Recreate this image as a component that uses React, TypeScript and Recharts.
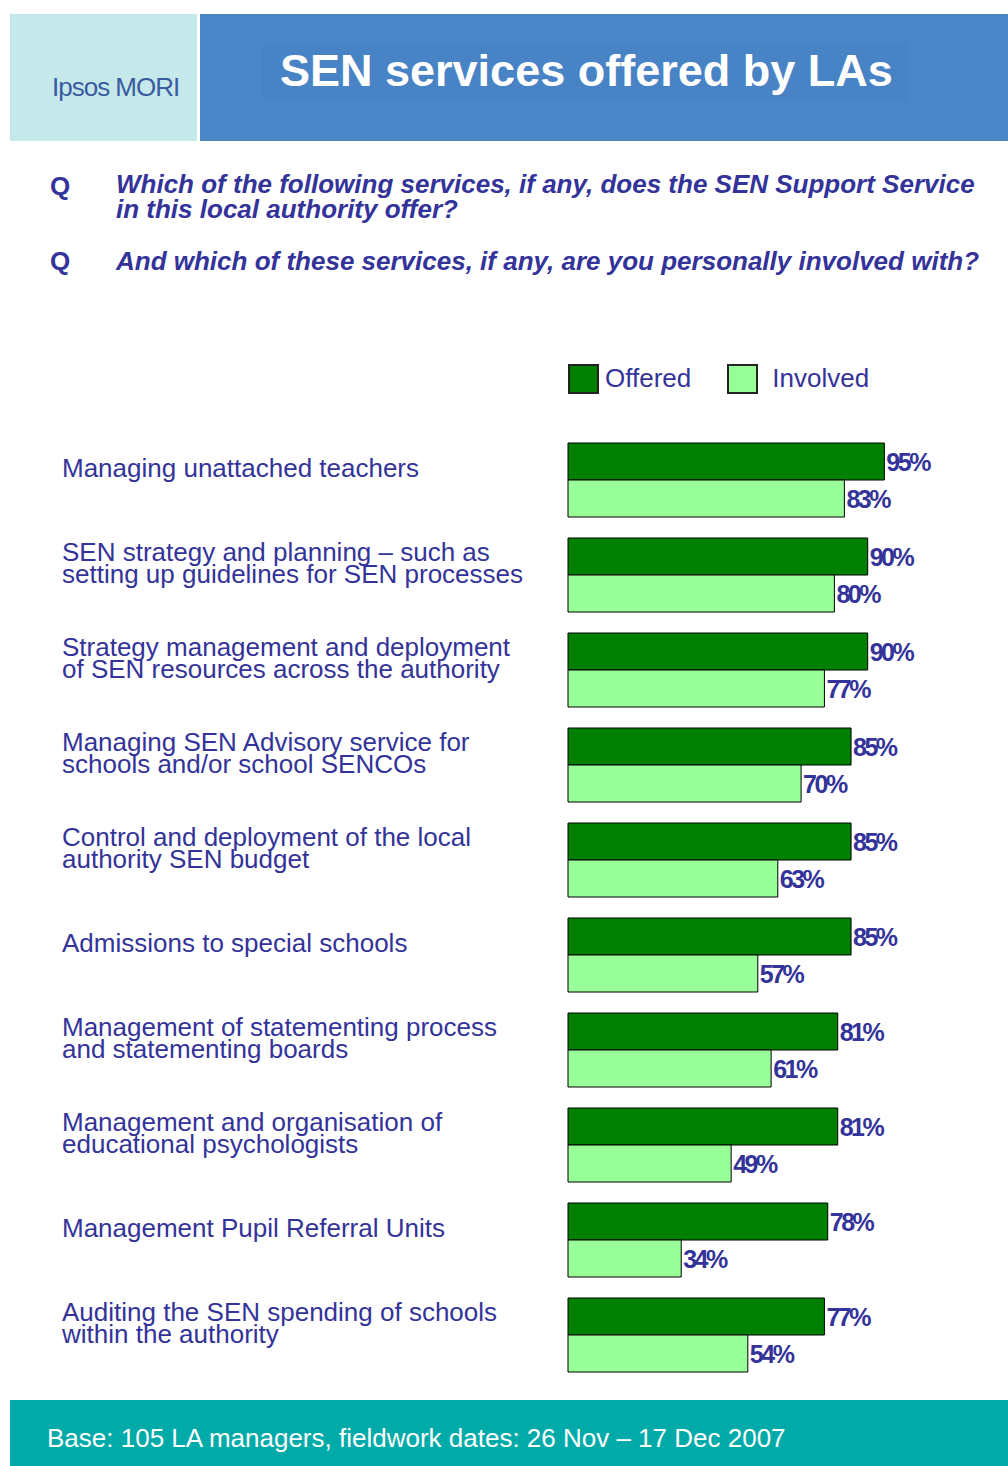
import { BarChart, Bar, XAxis, YAxis, Legend, LabelList } from 'recharts';

const CATEGORIES = [
  'Managing unattached teachers',
  'SEN strategy and planning – such as\nsetting up guidelines for SEN processes',
  'Strategy management and deployment\nof SEN resources across the authority',
  'Managing SEN Advisory service for\nschools and/or school SENCOs',
  'Control and deployment of the local\nauthority SEN budget',
  'Admissions to special schools',
  'Management of statementing process\nand statementing boards',
  'Management and organisation of\neducational psychologists',
  'Management Pupil Referral Units',
  'Auditing the SEN spending of schools\nwithin the authority',
];
const OFFERED = [95, 90, 90, 85, 85, 85, 81, 81, 78, 77];
const INVOLVED = [83, 80, 77, 70, 63, 57, 61, 49, 34, 54];
const SERIES_ORDER = ['Offered', 'Involved'];

const data = CATEGORIES.map((name, i) => ({ name, offered: OFFERED[i], involved: INVOLVED[i] }));

const NAVY = '#333399';
const FONT = '"Liberation Sans", Arial, sans-serif';

function CategoryTick({ y, payload }: { y?: number; payload?: { value: string } }) {
  const lines = (payload?.value ?? '').split('\n');
  const mid = (y ?? 0) - 12;
  const first = mid - ((lines.length - 1) * 22) / 2;
  return (
    <text fill={NAVY} fontSize={26} fontFamily={FONT}>
      {lines.map((l, i) => (
        <tspan key={i} x={62} y={first + i * 22 + 9}>
          {l}
        </tspan>
      ))}
    </text>
  );
}

function ValueLabel(props: any) {
  const { x, y, width, height, value } = props;
  return (
    <text
      x={x + width + 2}
      y={y + height / 2 + 9}
      fill={NAVY}
      fontSize={25}
      fontWeight="bold"
      fontFamily={FONT}
      letterSpacing={-2.5}
    >
      {value}%
    </text>
  );
}

function LegendBox({ payload }: { payload?: { value: string; color: string }[] }) {
  const items = [...(payload ?? [])].sort(
    (a, b) => SERIES_ORDER.indexOf(a.value) - SERIES_ORDER.indexOf(b.value)
  );
  return (
    <div style={{ display: 'flex', alignItems: 'center', fontFamily: FONT }}>
      {items.map((p, i) => (
        <div key={p.value} style={{ display: 'flex', alignItems: 'center', marginRight: i === 0 ? 36 : 0 }}>
          <div style={{ width: 27, height: 26, background: p.color, border: '2px solid #222' }} />
          <span style={{ color: NAVY, fontSize: 26, marginLeft: i === 0 ? 6 : 14 }}>{p.value}</span>
        </div>
      ))}
    </div>
  );
}

export default function App() {
  return (
    <div style={{ position: 'absolute', left: 0, top: 0, width: 1008, height: 1466, background: '#fff', fontFamily: FONT, overflow: 'hidden' }}>
      {/* header */}
      <div style={{ position: 'absolute', left: 10, top: 14, width: 187, height: 127, background: '#c5e8ea' }} />
      <div style={{ position: 'absolute', left: 52, top: 72, lineHeight: '30px', fontSize: 26, color: '#3a5ba0', letterSpacing: -1 }}>
        Ipsos MORI
      </div>
      <div style={{ position: 'absolute', left: 200, top: 14, width: 808, height: 127, background: '#4a87c8' }} />
      <div style={{ position: 'absolute', left: 262, top: 43, width: 646, height: 57, background: '#4883c5' }} />
      <div style={{ position: 'absolute', left: 280, top: 46, lineHeight: '50px', fontSize: 45, fontWeight: 'bold', color: '#fff' }}>
        SEN services offered by LAs
      </div>

      {/* questions */}
      <div style={{ position: 'absolute', left: 50, top: 172, lineHeight: '28px', fontSize: 26, fontWeight: 'bold', color: NAVY }}>Q</div>
      <div style={{ position: 'absolute', left: 116, top: 172, width: 890, lineHeight: '25px', fontSize: 26, fontWeight: 'bold', fontStyle: 'italic', color: NAVY, whiteSpace: 'nowrap' }}>
        Which of the following services, if any, does the SEN Support Service
        <br />
        in this local authority offer?
      </div>
      <div style={{ position: 'absolute', left: 50, top: 247, lineHeight: '28px', fontSize: 26, fontWeight: 'bold', color: NAVY }}>Q</div>
      <div style={{ position: 'absolute', left: 116, top: 247, lineHeight: '28px', fontSize: 26, fontWeight: 'bold', fontStyle: 'italic', color: NAVY, whiteSpace: 'nowrap' }}>
        And which of these services, if any, are you personally involved with?
      </div>

      {/* chart */}
      <div style={{ position: 'absolute', left: 0, top: 300 }}>
        <BarChart
          width={1008}
          height={1100}
          data={data}
          layout="vertical"
          margin={{ top: 132, right: 107, bottom: 18, left: 48 }}
          barGap={0}
        >
          <XAxis type="number" domain={[0, 100]} hide />
          <YAxis
            type="category"
            dataKey="name"
            width={520}
            axisLine={false}
            tickLine={false}
            interval={0}
            tick={<CategoryTick />}
          />
          <Legend
            layout="vertical"
            align="center"
            verticalAlign="middle"
            wrapperStyle={{ top: 63, left: 568, width: 400 }}
            content={<LegendBox />}
          />
          <Bar dataKey="offered" name="Offered" fill="#008000" stroke="#000" strokeWidth={1} barSize={37} isAnimationActive={false}>
            <LabelList dataKey="offered" content={<ValueLabel />} />
          </Bar>
          <Bar dataKey="involved" name="Involved" fill="#99ff99" stroke="#000" strokeWidth={1} barSize={37} isAnimationActive={false}>
            <LabelList dataKey="involved" content={<ValueLabel />} />
          </Bar>
        </BarChart>
      </div>

      {/* footer */}
      <div style={{ position: 'absolute', left: 10, top: 1400, width: 998, height: 66, background: '#00aaa8' }} />
      <div style={{ position: 'absolute', left: 47, top: 1424, lineHeight: '28px', fontSize: 26, color: '#fff' }}>
        Base: 105 LA managers, fieldwork dates: 26 Nov – 17 Dec 2007
      </div>
    </div>
  );
}
